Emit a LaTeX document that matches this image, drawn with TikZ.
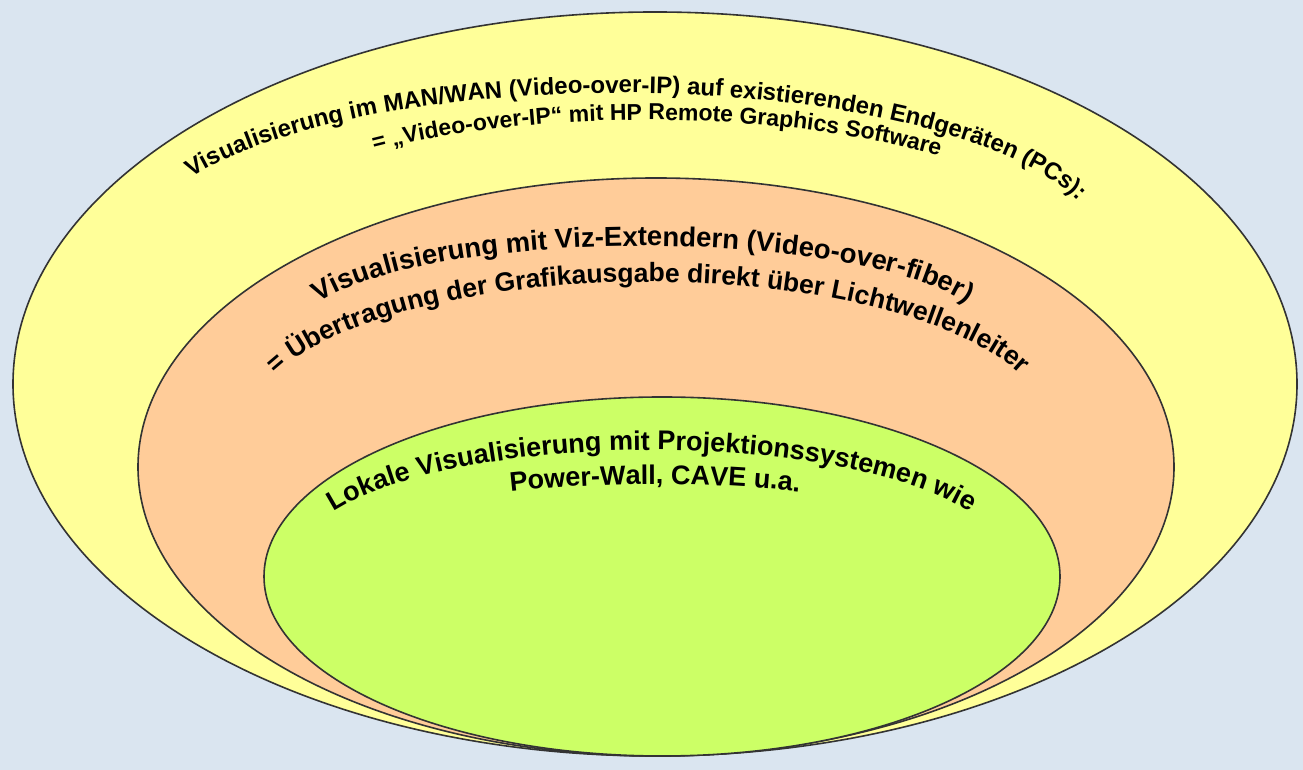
\documentclass[tikz,border=0pt]{standalone}
\usepackage{fontspec}
\setmainfont{Liberation Sans}
\usetikzlibrary{decorations.text}
\definecolor{bg}{HTML}{DAE5F0}
\definecolor{ringA}{HTML}{FFFF99}
\definecolor{ringB}{HTML}{FFCC99}
\definecolor{ringC}{HTML}{CCFF66}
\newcommand\fontA{\fontsize{24}{28}\selectfont\bfseries}
\newcommand\fontAA{\fontsize{23}{27}\selectfont\bfseries}
\newcommand\fontB{\fontsize{27.5}{32}\selectfont\bfseries}
\newcommand\fontC{\fontsize{26.5}{31}\selectfont\bfseries}
\newcommand\fontD{\fontsize{27}{31}\selectfont\bfseries}
\tikzset{
  ring/.style={draw=black!80, line width=1.6pt},
  arch/.style={decorate, decoration={text along path, text align=center, #1}}
}
\begin{document}
\begin{tikzpicture}[x=1pt,y=1pt]
\useasboundingbox (0,0) rectangle (1303,770);
\fill[bg] (0,0) rectangle (1303,770);
% rings
\path[ring, fill=ringA] (655,386) ellipse [x radius=642, y radius=372];
\path[ring, fill=ringB] (656,303) ellipse [x radius=518, y radius=289];
\path[ring, fill=ringC] (662,193.5) ellipse [x radius=398, y radius=179.5];
% outer ring text
\path[arch={text={|\fontA|Visualisierung im MAN/WAN (Video-over-IP) auf existierenden Endgeräten (PCs):}}]
  ([shift={(162:480 and 154)}]620,523) arc[start angle=162, end angle=6, x radius=480, y radius=154];
\path[arch={text={|\fontAA|= „Video-over-IP“ mit HP Remote Graphics Software}}]
  ([shift={(140:430 and 136)}]647,514) arc[start angle=140, end angle=36, x radius=430, y radius=136];
% middle ring text
\path[arch={text={|\fontB|Visualisierung mit Viz-Extendern (Video-over-fiber)}}]
  ([shift={(165:345 and 87)}]643,437) arc[start angle=165, end angle=15, x radius=345, y radius=87];
\path[arch={text={|\fontC|= Übertragung der Grafikausgabe direkt über Lichtwellenleiter}}]
  ([shift={(161:398 and 143)}]648,345) arc[start angle=161, end angle=19, x radius=398, y radius=143];
% inner ring text
\path[arch={text={|\fontD|Lokale Visualisierung mit Projektionssystemen wie}}]
  ([shift={(160:354 and 110)}]652,210) arc[start angle=160, end angle=20, x radius=354, y radius=110];
\path[arch={text={|\fontD|Power-Wall, CAVE u.a.}}]
  ([shift={(98:1336)}]655,-1050) arc[start angle=98, end angle=82, radius=1336];
\end{tikzpicture}
\end{document}
